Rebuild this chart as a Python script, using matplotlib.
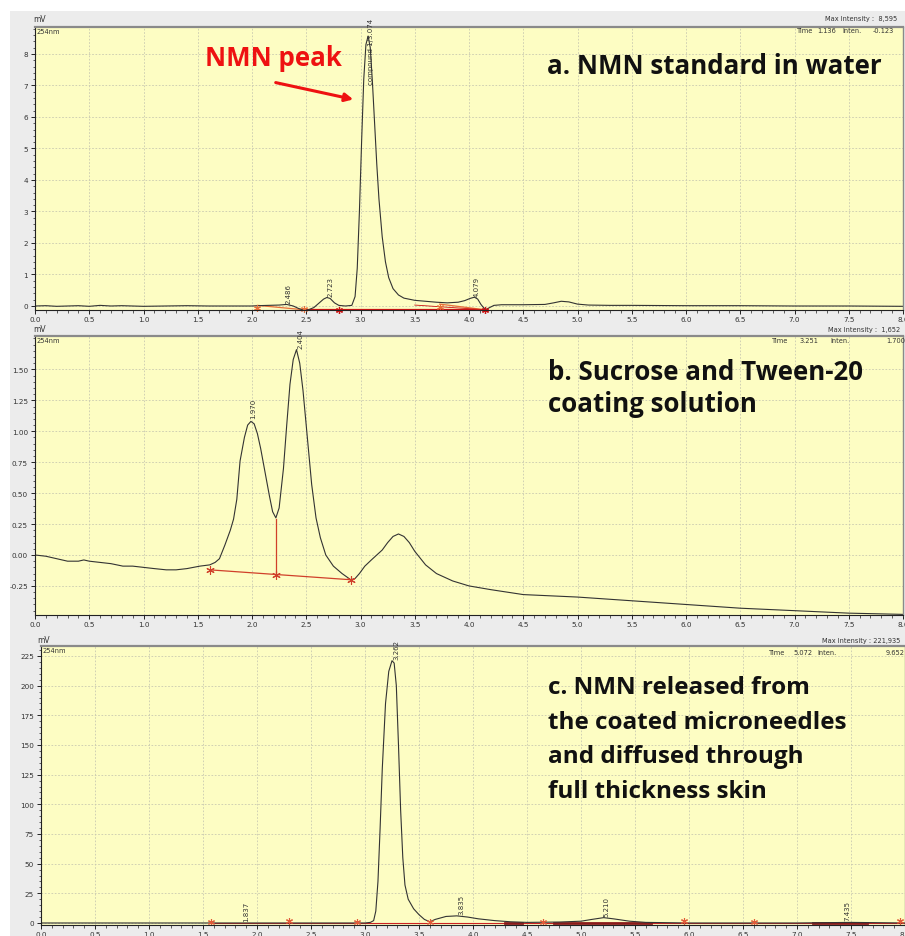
import matplotlib
matplotlib.use("Agg")
import matplotlib.pyplot as plt
from matplotlib.patches import Rectangle, FancyArrowPatch
from matplotlib.ticker import MultipleLocator, FormatStrFormatter

W, H = 905, 937

# ---------------- data ----------------
# Panel a: NMN standard in water
a_t = [0.00, 0.10, 0.20, 0.30, 0.40, 0.50, 0.60, 0.70, 0.80, 0.90, 1.00, 1.20, 1.40, 1.60,
       1.80, 2.00, 2.05, 2.15, 2.25, 2.32, 2.38, 2.43, 2.48, 2.52, 2.57, 2.62, 2.66, 2.69,
       2.72, 2.76, 2.80, 2.86, 2.92, 2.95, 2.97, 2.99, 3.01, 3.03, 3.05, 3.07, 3.09, 3.11,
       3.13, 3.15, 3.17, 3.20, 3.23, 3.26, 3.30, 3.35, 3.40, 3.50, 3.60, 3.70, 3.80, 3.90,
       3.96, 4.01, 4.05, 4.08, 4.11, 4.15, 4.19, 4.23, 4.30, 4.50, 4.70, 4.78, 4.85, 4.92,
       5.00, 5.10, 5.30, 5.50, 6.00, 6.50, 7.00, 7.50, 8.00]
a_v = [0.00, 0.01, -0.01, 0.00, 0.01, -0.01, 0.02, 0.00, 0.01, 0.00, -0.01, 0.00, 0.01, 0.00,
       0.00, 0.00, 0.01, 0.02, 0.03, 0.05, 0.00, -0.08, -0.13, -0.12, -0.05, 0.10, 0.22, 0.27,
       0.24, 0.10, 0.02, 0.00, 0.02, 0.30, 1.20, 3.00, 5.20, 7.20, 8.30, 8.57, 8.20, 7.10,
       5.80, 4.50, 3.40, 2.20, 1.40, 0.90, 0.55, 0.35, 0.25, 0.18, 0.15, 0.12, 0.10, 0.12,
       0.17, 0.24, 0.28, 0.22, 0.05, -0.12, -0.05, 0.02, 0.04, 0.04, 0.05, 0.10, 0.15, 0.13,
       0.06, 0.03, 0.02, 0.02, 0.01, 0.01, 0.00, 0.00, -0.01]

# Panel b: Sucrose and Tween-20 coating solution
b_t = [0.00, 0.10, 0.20, 0.30, 0.40, 0.45, 0.50, 0.60, 0.70, 0.81, 0.90, 1.00, 1.10, 1.21,
       1.30, 1.40, 1.52, 1.61, 1.66, 1.70, 1.75, 1.80, 1.83, 1.86, 1.89, 1.93, 1.96, 1.99,
       2.02, 2.05, 2.08, 2.12, 2.16, 2.19, 2.22, 2.25, 2.29, 2.32, 2.35, 2.38, 2.41, 2.44,
       2.47, 2.51, 2.55, 2.59, 2.63, 2.68, 2.75, 2.83, 2.91, 2.95, 2.99, 3.04, 3.10, 3.15,
       3.20, 3.25, 3.30, 3.35, 3.40, 3.45, 3.50, 3.60, 3.70, 3.85, 4.00, 4.20, 4.50, 5.00,
       5.50, 6.00, 6.50, 7.00, 7.50, 8.00]
b_v = [0.00, -0.01, -0.03, -0.05, -0.05, -0.04, -0.05, -0.06, -0.07, -0.09, -0.09, -0.10,
       -0.11, -0.12, -0.12, -0.11, -0.09, -0.08, -0.06, -0.03, 0.08, 0.20, 0.29, 0.45, 0.76,
       0.95, 1.05, 1.08, 1.06, 0.98, 0.86, 0.67, 0.48, 0.35, 0.30, 0.38, 0.70, 1.05, 1.38,
       1.58, 1.66, 1.55, 1.33, 0.95, 0.57, 0.30, 0.14, 0.00, -0.09, -0.15, -0.20, -0.19,
       -0.15, -0.09, -0.04, 0.00, 0.04, 0.10, 0.15, 0.17, 0.15, 0.10, 0.03, -0.08, -0.15,
       -0.21, -0.25, -0.28, -0.32, -0.34, -0.37, -0.40, -0.43, -0.45, -0.47, -0.48]

# Panel c: NMN released from coated microneedles
c_t = [0.00, 0.50, 1.00, 1.50, 2.00, 2.50, 2.90, 3.00, 3.05, 3.08, 3.10, 3.12, 3.14, 3.16,
       3.19, 3.22, 3.25, 3.27, 3.29, 3.31, 3.33, 3.35, 3.37, 3.40, 3.45, 3.50, 3.55, 3.60,
       3.65, 3.75, 3.85, 3.95, 4.05, 4.20, 4.35, 4.50, 4.80, 5.00, 5.10, 5.21, 5.30, 5.45,
       5.60, 6.00, 6.50, 7.00, 7.50, 8.00]
c_v = [0.0, 0.0, 0.0, 0.0, 0.0, 0.0, 0.0, 0.0, 0.5, 2.0, 10.0, 35.0, 80.0, 130.0,
       185.0, 212.0, 221.0, 219.0, 200.0, 150.0, 95.0, 55.0, 32.0, 20.0, 12.0, 7.0, 3.0, 1.0,
       3.0, 5.5, 6.0, 5.0, 3.5, 2.0, 1.0, 0.5, 0.8, 1.5, 3.0, 4.5, 3.5, 1.5,
       0.5, 0.0, 0.0, 0.0, 0.5, 0.0]

x_ticks = [0.0, 0.5, 1.0, 1.5, 2.0, 2.5, 3.0, 3.5, 4.0, 4.5, 5.0, 5.5, 6.0, 6.5, 7.0, 7.5, 8.0]
a_yticks = [0, 1, 2, 3, 4, 5, 6, 7, 8]
b_yticks = [-0.25, 0.00, 0.25, 0.50, 0.75, 1.00, 1.25, 1.50]
c_yticks = [0, 25, 50, 75, 100, 125, 150, 175, 200, 225]

a_peaks = [(2.34, 0.06, "2.486"), (2.72, 0.27, "2.723"), (3.10, 7.0, "compound 1/3.074"),
           (4.07, 0.28, "4.079")]
b_peaks = [(2.01, 1.10, "1.970"), (2.45, 1.66, "2.404")]
c_peaks = [(1.90, 0.5, "1.837"), (3.29, 221.0, "3.262"), (3.89, 6.0, "3.835"),
           (5.24, 4.5, "5.210"), (7.47, 1.0, "7.435")]

# ---------------- styling ----------------
YELLOW = "#fdfdc3"
GRAY = "#ececec"
GRID = "#c9c9b0"
TICKC = "#333333"
BIGFONT = "Open Sans"
BIGSIZE = 18.6
CSIZE = 17.5

fig = plt.figure(figsize=(W / 100, H / 100), dpi=100)
fig.patch.set_facecolor("white")
fig.patches.append(Rectangle((10 / W, 0), 1 - 10 / W, 1 - 12 / H, transform=fig.transFigure,
                             facecolor=GRAY, edgecolor="none", zorder=-10))


def rect(l, t, r, b):
    return [l / W, 1 - b / H, (r - l) / W, (b - t) / H]


def ftext(x, y, s, **kw):
    fig.text(x / W, 1 - y / H, s, **kw)


def small(x, y, s, ha="left"):
    ftext(x, y, s, fontsize=4.8, color="#333333", ha=ha, va="center")


def style_ax(ax, ylim, yticks, yminor, yfmt):
    ax.set_facecolor(YELLOW)
    ax.set_xlim(0, 8)
    ax.set_ylim(*ylim)
    ax.set_xticks(x_ticks)
    ax.xaxis.set_minor_locator(MultipleLocator(0.1))
    ax.set_yticks(yticks)
    ax.yaxis.set_minor_locator(MultipleLocator(yminor))
    ax.xaxis.set_major_formatter(FormatStrFormatter("%.1f"))
    ax.yaxis.set_major_formatter(FormatStrFormatter(yfmt))
    ax.tick_params(axis="both", which="major", labelsize=5.2, labelcolor=TICKC,
                   length=3, width=0.7, color="#222222", pad=2)
    ax.tick_params(axis="x", which="major", pad=1.5)
    ax.tick_params(axis="both", which="minor", length=1.8, width=0.5, color="#222222")
    ax.grid(True, which="major", color=GRID, linestyle=(0, (2, 2)), linewidth=0.6)
    ax.set_axisbelow(True)
    for s in ("top", "right"):
        ax.spines[s].set_color("#8a8a8a")
    ax.spines["top"].set_linewidth(1.6)
    ax.spines["right"].set_linewidth(1.0)
    ax.spines["left"].set_color("#222222")
    ax.spines["bottom"].set_color("#222222")
    ax.spines["left"].set_linewidth(0.8)
    ax.spines["bottom"].set_linewidth(0.8)
    ax.text(0.002, 0.998, "254nm", transform=ax.transAxes, fontsize=4.8, color="#333333",
            ha="left", va="top")


def peak_labels(ax, peaks):
    for x, y, s in peaks:
        ax.annotate(s, (x, y), xytext=(0, 1), textcoords="offset points", rotation=90,
                    fontsize=5.0, color="#333333", ha="center", va="bottom",
                    annotation_clip=False, clip_on=False)


# ---------------- panel a ----------------
axa = fig.add_axes(rect(35, 28, 903, 311))
style_ax(axa, (-0.127, 8.857), a_yticks, 0.2, "%d")
axa.plot([2.05, 2.48], [0.02, -0.12], color="#e8703a", lw=0.9)
axa.plot([2.48, 4.15], [-0.13, -0.13], color="#cc1111", lw=1.6)
axa.plot([3.73, 4.15], [0.06, -0.12], color="#e8703a", lw=0.9)
axa.plot([3.50, 4.15], [0.03, -0.12], color="#cc1111", lw=0.6)
axa.plot(a_t, a_v, color="#333333", lw=0.8)
axa.plot([2.05, 2.48, 3.73], [-0.05, -0.11, -0.02], ls="none", marker=(6, 2, 0),
         ms=5, color="#e8703a", mew=0.8, clip_on=False)
axa.plot([2.80, 4.15], [-0.12, -0.12], ls="none", marker=(6, 2, 0), ms=5,
         color="#cc1111", mew=0.9, clip_on=False)
peak_labels(axa, a_peaks)

ftext(33, 20, "mV", fontsize=5.5, color="#333333", ha="left", va="center")
small(897, 19, "Max Intensity :  8,595", ha="right")
small(797, 31, "Time")
small(817, 31, "1.136")
small(842, 31, "Inten.")
small(894, 31, "-0.123", ha="right")

ftext(273, 59, "NMN peak", fontsize=BIGSIZE, fontweight="bold", color="#ee1111",
      family=BIGFONT, ha="center", va="center")
fig.patches.append(FancyArrowPatch((273 / W, 1 - 83 / H), (356 / W, 1 - 101 / H),
                                   transform=fig.transFigure, arrowstyle="-|>",
                                   mutation_scale=12, lw=2.2, color="#ee1111"))
ftext(547, 67, "a. NMN standard in water", fontsize=BIGSIZE, fontweight="bold",
      color="#111111", family=BIGFONT, ha="left", va="center")

# ---------------- panel b ----------------
axb = fig.add_axes(rect(35, 337, 903, 616))
style_ax(axb, (-0.485, 1.77), b_yticks, 0.05, "%.2f")
axb.plot([1.61, 2.91], [-0.12, -0.20], color="#d0402a", lw=0.9)
axb.plot([2.22, 2.22], [-0.16, 0.29], color="#d0402a", lw=0.9)
axb.plot(b_t, b_v, color="#333333", lw=0.8)
axb.plot([1.61, 2.22, 2.91], [-0.12, -0.16, -0.20], ls="none", marker=(6, 2, 0), ms=6,
         color="#d0402a", mew=0.8)
peak_labels(axb, b_peaks)

ftext(33, 330, "mV", fontsize=5.5, color="#333333", ha="left", va="center")
small(828, 330, "Max Intensity :  1,652")
small(772, 341, "Time")
small(800, 341, "3.251")
small(830, 341, "Inten.")
small(886, 341, "1.700")

ftext(548, 373, "b. Sucrose and Tween-20", fontsize=BIGSIZE, fontweight="bold",
      color="#111111", family=BIGFONT, ha="left", va="center")
ftext(548, 404, "coating solution", fontsize=BIGSIZE, fontweight="bold",
      color="#111111", family=BIGFONT, ha="left", va="center")

# ---------------- panel c ----------------
axc = fig.add_axes(rect(41, 647, 905, 926))
style_ax(axc, (-1.7, 233.4), c_yticks, 5, "%d")
axc.plot([1.57, 8.0], [0.0, 0.0], color="#cc2222", lw=0.8)
for x0, x1 in [(4.30, 4.45), (4.75, 5.65), (7.15, 7.65)]:
    axc.plot([x0, x1], [0.3, 0.3], color="#8a1a1a", lw=2.0)
axc.plot(c_t, c_v, color="#333333", lw=0.8)
axc.plot([1.57, 2.30, 2.93, 3.60, 4.65, 5.95, 6.60, 7.95],
         [0.5, 2.0, 0.5, 1.0, 1.0, 2.0, 0.5, 2.0], ls="none", marker=(6, 2, 0), ms=5,
         color="#e05a3a", mew=0.8, clip_on=False)
peak_labels(axc, c_peaks)

ftext(37, 641, "mV", fontsize=5.5, color="#333333", ha="left", va="center")
small(822, 641, "Max Intensity : 221,935")
small(769, 653, "Time")
small(793, 653, "5.072")
small(817, 653, "Inten.")
small(886, 653, "9.652")

for i, line in enumerate(["c. NMN released from", "the coated microneedles",
                          "and diffused through", "full thickness skin"]):
    ftext(548, 688 + i * 34.7, line, fontsize=CSIZE, fontweight="bold", color="#111111",
          family=BIGFONT, ha="left", va="center")

fig.savefig("out.png", dpi=100, facecolor=fig.get_facecolor())
